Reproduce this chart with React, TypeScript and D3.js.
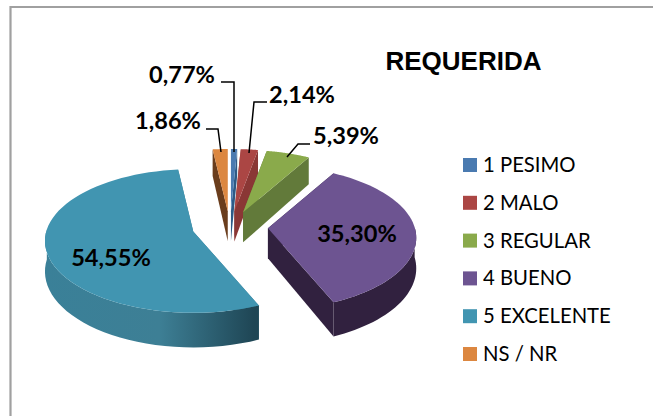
import React from "react";
import * as d3 from "d3";

const categories = ["1 PESIMO", "2 MALO", "3 REGULAR", "4 BUENO", "5 EXCELENTE", "NS / NR"];
const values = [0.77, 2.14, 5.39, 35.3, 54.55, 1.86];
const valueLabels = ["0,77%", "2,14%", "5,39%", "35,30%", "54,55%", "1,86%"];
const topColors = ["#4a7ab0", "#ab4644", "#8aaa4b", "#6d5491", "#4195b1", "#dc8740"];
const sideColors = ["#2d5a85", "#8a3735", "#627a3a", "#31213f", "#3a7f96", "#6a3d1c"];

const W = 653, H = 416;
const CX = 230, CY = 227.3, EX = 38, EY = 16, RX = 147, RY = 70.6, P = 0.133, T = 30;

const pie = d3.pie<number>().sort(null);
const arcs = pie(values);

function project(ax: number, ay: number, rho: number, th: number, drop = 0) {
  const u = rho * Math.sin(th), v = rho * Math.cos(th);
  const w = 1 / (1 + P * v);
  return [ax + u * RX * w, ay - v * RY * w + drop * w] as [number, number];
}
const line = d3.line<[number, number]>();
const deg = Math.PI / 180;

export default function App() {
  const slices = arcs.map((a, i) => {
    const mid = (a.startAngle + a.endAngle) / 2;
    const ax = CX + EX * Math.sin(mid), ay = CY - EY * Math.cos(mid);
    const ths = d3.range(0, 61).map(k => a.startAngle + (a.endAngle - a.startAngle) * k / 60);
    const outer = ths.map(t => project(ax, ay, 1, t));
    const top = line([[ax, ay], ...outer])! + "Z";
    const radial = (t: number) =>
      line([project(ax, ay, 0, t), project(ax, ay, 1, t), project(ax, ay, 1, t, T), project(ax, ay, 0, t, T)])! + "Z";
    const front = ths.filter(t => t >= 88 * deg && t <= 272 * deg);
    const wall = front.length
      ? line([...front.map(t => project(ax, ay, 1, t)), ...front.slice().reverse().map(t => project(ax, ay, 1, t, T))])! + "Z"
      : null;
    return { i, top, wall, r1: radial(a.startAngle), r2: radial(a.endAngle) };
  });

  const drawOrder = [5, 0, 1, 2, 3, 4];
  const legendY = d3.scalePoint<string>().domain(categories).range([165, 354]);

  const leaders = [
    "M221 82H234V152",
    "M267 102H254L249 153",
    "M310 144H298L287 157",
    "M206 129H218L221 152",
  ];
  const labelPos: Record<number, [number, number]> = {
    0: [182, 83], 1: [302, 103], 2: [346, 144], 3: [357, 242], 4: [111, 266], 5: [168, 129],
  };

  return (
    <svg width={W} height={H} style={{ position: "absolute", left: 0, top: 0, background: "#fff" }}>
      <defs>
        <linearGradient id="tealWall" gradientUnits="userSpaceOnUse" x1="44" x2="254" y1="0" y2="0">
          <stop offset="0" stopColor="#3a8098" />
          <stop offset="0.55" stopColor="#3d7f95" />
          <stop offset="1" stopColor="#1f4655" />
        </linearGradient>
      </defs>
      <path d={`M10.5 ${H}V7H${W}`} fill="none" stroke="#a0a0a0" strokeWidth={2.2} />
      {drawOrder.map(i => {
        const s = slices[i];
        const side = i === 4 ? "url(#tealWall)" : sideColors[i];
        return (
          <g key={i}>
            <path d={s.r1} fill={sideColors[i]} />
            <path d={s.r2} fill={sideColors[i]} />
            {s.wall && <path d={s.wall} fill={side} />}
            <path d={s.top} fill={topColors[i]} />
          </g>
        );
      })}
      {leaders.map((d, i) => (
        <path key={i} d={d} fill="none" stroke="#000" strokeWidth={1.5} />
      ))}
      {valueLabels.map((t, i) => (
        <text key={i} x={labelPos[i][0]} y={labelPos[i][1]} textAnchor="middle"
          fontFamily="Lato" fontWeight={700} fontSize={23.6} fill="#000">{t}</text>
      ))}
      <text x={463.5} y={70} textAnchor="middle" fontFamily="Liberation Sans" fontWeight={700} fontSize={26} fill="#000">REQUERIDA</text>
      {categories.map((c, i) => (
        <g key={c}>
          <rect x={463} y={legendY(c)! - 7} width={14} height={14} fill={topColors[i]} />
          <text x={483} y={legendY(c)! + 7} fontFamily="Lato" fontSize={20.3} fill="#000">{c}</text>
        </g>
      ))}
    </svg>
  );
}
